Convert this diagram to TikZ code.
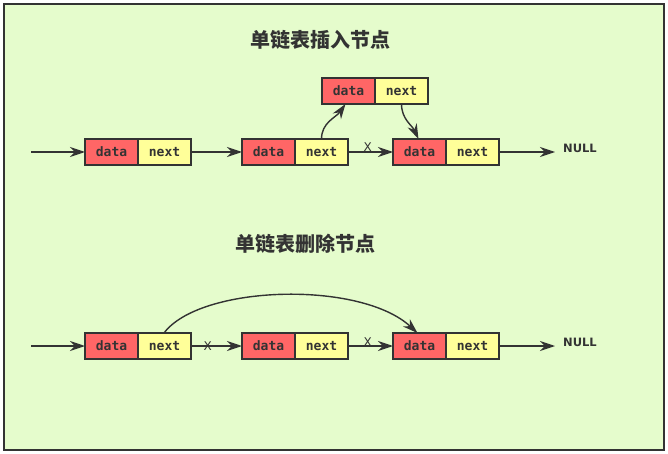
\documentclass[tikz,border=0pt]{standalone}
\usepackage{fontspec}
\setsansfont{DejaVu Sans}
\setmonofont{DejaVu Sans Mono}
\newfontfamily\cjk{Noto Sans CJK SC}
\usepackage{tikz}
\usetikzlibrary{arrows.meta, positioning}
\definecolor{paneGreen}{RGB}{229, 252, 204}
\definecolor{inkGray}{RGB}{51, 51, 51}
\definecolor{dataRed}{RGB}{255, 102, 102}
\definecolor{nextYellow}{RGB}{255, 255, 153}

\begin{document}
\begin{tikzpicture}[
    x=1pt, y=-1pt,
    cell/.style={rectangle, draw=inkGray, line width=1.3pt, outer sep=0pt, minimum width=53pt, minimum height=26pt, inner sep=0pt, font=\ttfamily\bfseries\fontsize{13}{15}\selectfont, text=inkGray},
    datacell/.style={cell, fill=dataRed},
    nextcell/.style={cell, fill=nextYellow},
    arrow/.style={-{Stealth[length=15pt, width=10pt]}, line width=1.4pt, draw=inkGray},
    title/.style={font=\cjk\bfseries\fontsize{20}{24}\selectfont, text=inkGray},
    nullmark/.style={font=\sffamily\bfseries\fontsize{11.5}{13}\selectfont, text=inkGray, anchor=west, inner sep=0pt},
    cut/.style={font=\sffamily\fontsize{12}{14}\selectfont, text=inkGray, inner sep=0pt}
]
\useasboundingbox (0,0) rectangle (668,454);

% Frame
\draw[draw=inkGray, line width=1.3pt, fill=paneGreen] (4,4) rectangle (664,450);

% Insertion
\node[title] (titleIns) at (320,40) {单链表插入节点};

\coordinate (startA) at (31,152);
\node[datacell] (a1data) at (111.5,152) {data};
\node[nextcell, right=0pt of a1data] (a1next) {next};
\node[datacell] (b1data) at (268.5,152) {data};
\node[nextcell, right=0pt of b1data] (b1next) {next};
\node[datacell] (c1data) at (419.5,152) {data};
\node[nextcell, right=0pt of c1data] (c1next) {next};
\node[datacell] (newdata) at (348.5,91) {data};
\node[nextcell, right=0pt of newdata] (newnext) {next};
\node[nullmark] (null1) at (563,148) {NULL};
\coordinate (end1) at (555,152);

\draw[arrow] (startA) -- (a1data);
\draw[arrow] (a1next) -- (b1data);
\draw[arrow] (b1next) -- node[cut, pos=0.44, yshift=5pt] {X} (c1data);
\draw[arrow] (c1next) -- (end1);
\draw[arrow] (b1next.north) to[out=90, in=-125] ([xshift=-3pt]newdata.south);
\draw[arrow] (newnext.south) to[out=-90, in=115] ([xshift=-1pt]c1data.north);

% Deletion
\node[title] (titleDel) at (305,244) {单链表删除节点};

\coordinate (startB) at (31,346);
\node[datacell] (a2data) at (111.5,346) {data};
\node[nextcell, right=0pt of a2data] (a2next) {next};
\node[datacell] (b2data) at (268.5,346) {data};
\node[nextcell, right=0pt of b2data] (b2next) {next};
\node[datacell] (c2data) at (419.5,346) {data};
\node[nextcell, right=0pt of c2data] (c2next) {next};
\node[nullmark] (null2) at (563,342) {NULL};
\coordinate (end2) at (555,346);

\draw[arrow] (startB) -- (a2data);
\draw[arrow] (a2next) -- node[cut, pos=0.33] {X} (b2data);
\draw[arrow] (b2next) -- node[cut, pos=0.44, yshift=4pt] {X} (c2data);
\draw[arrow] (c2next) -- (end2);
\draw[arrow] ([xshift=-27pt]a2next.north east) .. controls (200,285) and (360,280) .. ([xshift=-2pt]c2data.north);

\end{tikzpicture}
\end{document}
